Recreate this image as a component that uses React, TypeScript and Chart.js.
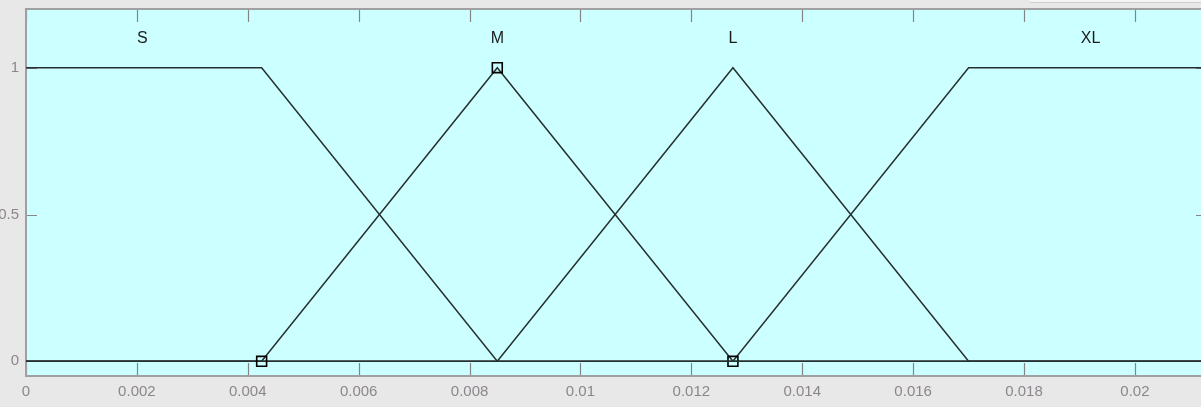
import React, { useEffect, useRef } from "react";
import { Chart, registerables } from "chart.js";

Chart.register(...registerables);

// ---- data ----
const mfNames = ["S", "M", "L", "XL"];
const sX = [0, 0.00425, 0.0085, 0.0213];
const sY = [1, 1, 0, 0];
const mX = [0, 0.00425, 0.0085, 0.01275, 0.0213];
const mY = [0, 0, 1, 0, 0];
const lX = [0, 0.0085, 0.01275, 0.017, 0.0213];
const lY = [0, 0, 1, 0, 0];
const xlX = [0, 0.01275, 0.017, 0.0213];
const xlY = [0, 0, 1, 1];
const mMarked = [false, true, true, true, false];
const labelX = [0.0021, 0.0085, 0.01275, 0.0192];
const labelY = 1.1;

const xTicks = [0, 0.002, 0.004, 0.006, 0.008, 0.01, 0.012, 0.014, 0.016, 0.018, 0.02];
const xTickLabels = ["0", "0.002", "0.004", "0.006", "0.008", "0.01", "0.012", "0.014", "0.016", "0.018", "0.02"];
const yTicks = [0, 0.5, 1];
const yTickLabels = ["0", "0.5", "1"];
const xMin = 0;
const xMax = 0.0213;
const yMin = -0.05;
const yMax = 1.2;

const LINE = "#263030";
const GRAY = "#8c868c";
const FONT = "'Liberation Sans', Arial, sans-serif";

const pts = (xs: number[], ys: number[]) => xs.map((x, i) => ({ x, y: ys[i] }));

const framePlugin = {
  id: "frame",
  beforeDatasetsDraw(chart: any) {
    const { ctx, chartArea: a, scales } = chart;
    ctx.save();
    ctx.fillStyle = "#ccffff";
    ctx.fillRect(a.left, a.top, a.right - a.left, a.bottom - a.top);
    ctx.strokeStyle = "#858585";
    ctx.lineWidth = 1.2;
    const tl = 13;
    xTicks.forEach((v) => {
      const x = Math.round(scales.x.getPixelForValue(v)) + 0.5;
      ctx.beginPath();
      ctx.moveTo(x, a.top);
      ctx.lineTo(x, a.top + tl);
      ctx.moveTo(x, a.bottom);
      ctx.lineTo(x, a.bottom - tl);
      ctx.stroke();
    });
    yTicks.forEach((v) => {
      const y = Math.round(scales.y.getPixelForValue(v)) + 0.5;
      ctx.beginPath();
      ctx.moveTo(a.left, y);
      ctx.lineTo(a.left + 11, y);
      ctx.moveTo(a.right, y);
      ctx.lineTo(a.right - 11, y);
      ctx.stroke();
    });
    ctx.strokeStyle = "#a0a0a0";
    ctx.lineWidth = 2;
    ctx.beginPath();
    ctx.moveTo(a.right, a.top);
    ctx.lineTo(a.left, a.top);
    ctx.lineTo(a.left, a.bottom);
    ctx.lineTo(a.right, a.bottom);
    ctx.stroke();
    ctx.restore();
  },
  afterDatasetsDraw(chart: any) {
    const { ctx, scales } = chart;
    ctx.save();
    ctx.fillStyle = "#1c1c1c";
    ctx.font = "16px " + FONT;
    ctx.textAlign = "center";
    ctx.textBaseline = "middle";
    mfNames.forEach((n, i) => {
      ctx.fillText(n, scales.x.getPixelForValue(labelX[i]), scales.y.getPixelForValue(labelY));
    });
    ctx.restore();
  },
};

export default function App() {
  const ref = useRef<HTMLCanvasElement | null>(null);
  useEffect(() => {
    if (!ref.current) return;
    const ds = (xs: number[], ys: number[], marked?: boolean[]) => ({
      data: pts(xs, ys),
      borderColor: LINE,
      borderWidth: 1.5,
      fill: false,
      tension: 0,
      pointStyle: "rect" as const,
      pointRadius: marked ? marked.map((m) => (m ? 7 : 0)) : 0,
      pointBorderColor: "#000",
      pointBorderWidth: 1.6,
      pointBackgroundColor: "rgba(0,0,0,0)",
      clip: false as any,
    });
    const chart = new Chart(ref.current, {
      type: "line",
      data: {
        datasets: [ds(sX, sY), ds(mX, mY, mMarked), ds(lX, lY), ds(xlX, xlY)] as any,
      },
      plugins: [framePlugin],
      options: {
        animation: false,
        responsive: true,
        maintainAspectRatio: false,
        layout: { padding: { top: 9, left: 0, right: 0, bottom: 0 } },
        plugins: { legend: { display: false }, tooltip: { enabled: false } },
        events: [],
        scales: {
          x: {
            type: "linear",
            min: xMin,
            max: xMax,
            grid: { display: false, drawTicks: false },
            border: { display: false },
            afterBuildTicks: (s: any) => {
              s.ticks = xTicks.map((v) => ({ value: v }));
            },
            afterFit: (s: any) => {
              s.height = 31;
              s.paddingLeft = 0;
              s.paddingRight = 0;
            },
            ticks: {
              autoSkip: false,
              maxRotation: 0,
              padding: 7,
              color: GRAY,
              font: { family: FONT, size: 15 },
              callback: (_v: any, i: number) => xTickLabels[i],
            },
          },
          y: {
            type: "linear",
            min: yMin,
            max: yMax,
            grid: { display: false, drawTicks: false },
            border: { display: false },
            afterBuildTicks: (s: any) => {
              s.ticks = yTicks.map((v) => ({ value: v }));
            },
            afterFit: (s: any) => {
              s.width = 26;
              s.paddingTop = 0;
              s.paddingBottom = 0;
            },
            ticks: {
              padding: 7,
              color: GRAY,
              font: { family: FONT, size: 15 },
              callback: (_v: any, i: number) => yTickLabels[i],
            },
          },
        },
      },
    });
    return () => chart.destroy();
  }, []);
  return (
    <div
      style={{
        position: "fixed",
        left: 0,
        top: 0,
        width: 1201,
        height: 407,
        overflow: "hidden",
        background: "#e8e8e8",
      }}
    >
      <div style={{ position: "absolute", left: 1030, top: 0, width: 171, height: 2, borderBottom: "1px solid #cfcfcf", background: "#f4f4f4" }} />
      <div style={{ position: "absolute", left: 0, top: 0, width: 1207, height: 407 }}>
        <canvas ref={ref} />
      </div>
    </div>
  );
}
